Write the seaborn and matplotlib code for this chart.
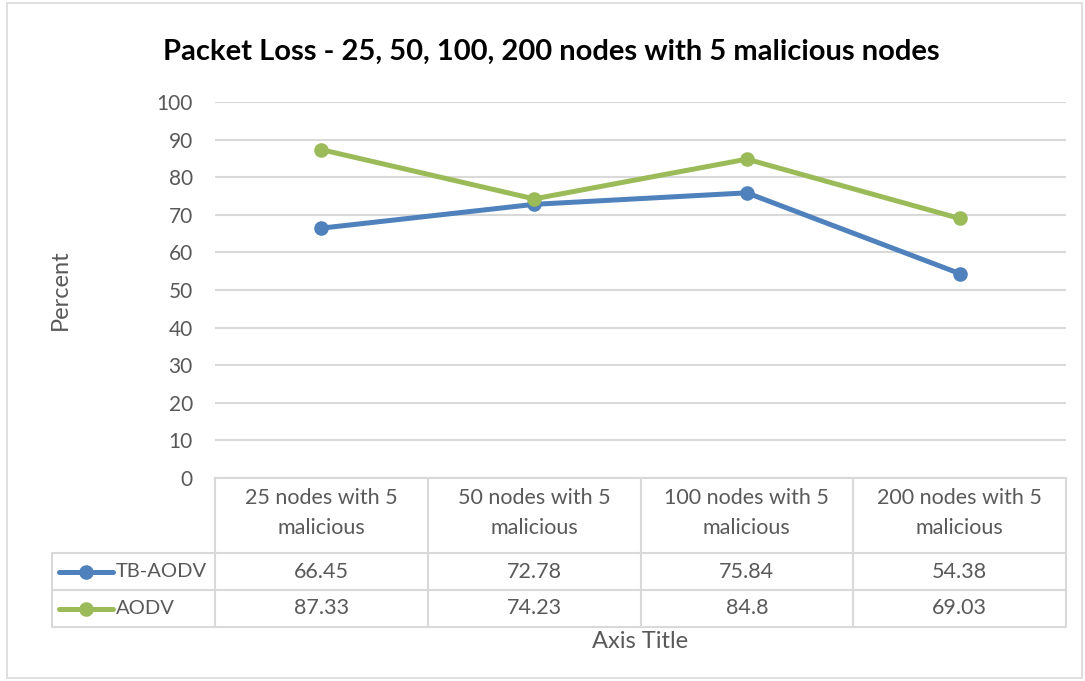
import matplotlib
matplotlib.use("Agg")
import matplotlib.pyplot as plt
import matplotlib.transforms as mtransforms
from matplotlib.lines import Line2D
from matplotlib.patches import Rectangle
import seaborn as sns
import pandas as pd

categories = ["25 nodes with 5\nmalicious", "50 nodes with 5\nmalicious",
              "100 nodes with 5\nmalicious", "200 nodes with 5\nmalicious"]
series_names = ["TB-AODV", "AODV"]
tb_aodv = [66.45, 72.78, 75.84, 54.38]
aodv = [87.33, 74.23, 84.8, 69.03]
value_labels = {"TB-AODV": ["66.45", "72.78", "75.84", "54.38"],
                "AODV": ["87.33", "74.23", "84.8", "69.03"]}
colors = {"TB-AODV": "#4F81BD", "AODV": "#9BBB59"}

sns.set_theme(style="white")
plt.rcParams['font.family'] = ['Lato', 'DejaVu Sans']
txt = "#595959"
gridc = "#D9D9D9"

df = pd.DataFrame({
    "idx": list(range(4)) * 2,
    "value": tb_aodv + aodv,
    "series": ["TB-AODV"] * 4 + ["AODV"] * 4,
})

fig = plt.figure(figsize=(10.85, 6.81), dpi=100)
ax = fig.add_axes([215/1085, 1-478/681, (1066-215)/1085, (478-102)/681])

sns.lineplot(data=df, x="idx", y="value", hue="series", palette=colors,
             hue_order=series_names, marker="o", markersize=10.5, linewidth=3.6,
             markeredgewidth=0, sort=False, ax=ax, legend=False)

ax.set_xlim(-0.5, 3.5)
ax.set_ylim(0, 100)
ax.set_yticks(range(0, 101, 10))
ax.yaxis.grid(True, color=gridc, linewidth=1.5)
ax.set_axisbelow(True)
for s in ["left", "right", "top"]:
    ax.spines[s].set_visible(False)
ax.spines["bottom"].set_color(gridc)
ax.spines["bottom"].set_linewidth(1.5)
ax.set_xticks([])
ax.set_xlabel("")
ax.set_ylabel("")
ax.tick_params(axis="y", labelsize=15, colors=txt, length=0, pad=16)

# Data table
H = 376.0  # axes height px
def ay(py):
    return (478 - py) / H
W = 851.0
def ax_(px):
    return (px - 215) / W

lk = dict(color=gridc, linewidth=1.5, transform=ax.transAxes, clip_on=False)
for px in [215, 427.75, 640.5, 853.25, 1066]:
    ax.add_line(Line2D([ax_(px), ax_(px)], [ay(478), ay(627)], **lk))
ax.add_line(Line2D([ax_(52), ax_(52)], [ay(553), ay(627)], **lk))
for py in [553, 590, 627]:
    ax.add_line(Line2D([ax_(52), ax_(1066)], [ay(py), ay(py)], **lk))

trans = mtransforms.blended_transform_factory(ax.transData, ax.transAxes)
for i, c in enumerate(categories):
    ax.text(i, ay(513), c, transform=trans, ha="center", va="center",
            fontsize=15.5, color=txt, linespacing=1.6)
    for r, name in enumerate(series_names):
        yc = ay(571.5 + 37 * r)
        ax.text(i, yc, value_labels[name][i], transform=trans, ha="center",
                va="center", fontsize=15.5, color=txt)

for r, name in enumerate(series_names):
    yc = ay(571.5 + 37 * r)
    ax.add_line(Line2D([ax_(59), ax_(113)], [yc, yc], color=colors[name],
                       linewidth=3.6, transform=ax.transAxes, clip_on=False,
                       solid_capstyle="round"))
    ax.add_line(Line2D([ax_(86)], [yc], color=colors[name], marker="o",
                       markersize=10.5, markeredgewidth=0, transform=ax.transAxes,
                       clip_on=False))
    ax.text(ax_(116), yc, name, transform=ax.transAxes, ha="left", va="center",
            fontsize=14.5, color=txt)

fig.text(551/1085, 1-52/681, "Packet Loss - 25, 50, 100, 200 nodes with 5 malicious nodes",
         ha="center", va="center", fontsize=21, fontweight="bold", color="black")
fig.text(60/1085, 1-290/681, "Percent", rotation=90, ha="center", va="center",
         fontsize=17, color=txt)
fig.text(640/1085, 1-641/681, "Axis Title", ha="center", va="center",
         fontsize=17, color=txt)

fig.patches.append(Rectangle((7/1085, 3/681), (1082-7)/1085, (678-3)/681,
                             transform=fig.transFigure, fill=False,
                             edgecolor=gridc, linewidth=1.2))

fig.savefig("out.png", dpi=100, facecolor="white")
